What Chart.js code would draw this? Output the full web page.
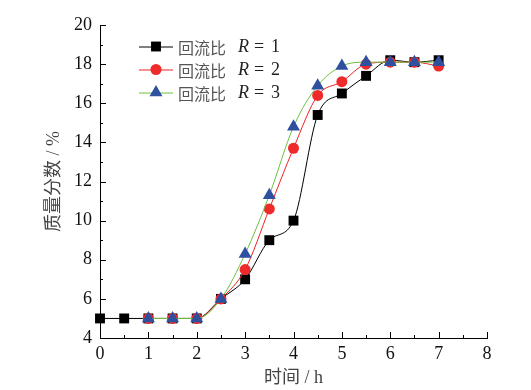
<!DOCTYPE html>
<html>
<head>
<meta charset="utf-8">
<script src="https://cdn.jsdelivr.net/npm/chart.js@4.4.0/dist/chart.umd.min.js"></script>
<style>
  html, body { margin: 0; padding: 0; background: #fff; }
  #wrap { width: 531px; height: 390px; position: relative; }
</style>
</head>
<body>
<div id="wrap"><canvas id="chart" width="531" height="390"></canvas></div>
<script>
// ── Data ───────────────────────────────────────────────────────────────────
const timeR1 = [0, 0.5, 1, 1.5, 2, 2.5, 3, 3.5, 4, 4.5, 5, 5.5, 6, 6.5, 7];
const massR1 = [5, 5, 5, 5, 5, 6, 7, 9, 10, 15.4, 16.5, 17.4, 18.2, 18.1, 18.2];

const timeR23 = [1, 1.5, 2, 2.5, 3, 3.5, 4, 4.5, 5, 5.5, 6, 6.5, 7];
const massR2  = [5, 5, 5, 6, 7.5, 10.6, 13.7, 16.4, 17.1, 18.0, 18.1, 18.1, 17.9];
const massR3  = [5, 5, 5, 6, 8.3, 11.3, 14.8, 16.9, 17.9, 18.1, 18.1, 18.1, 18.1];

const seriesNames = ['1', '2', '3'];

const SERIF = "'Liberation Serif', 'Times New Roman', 'Noto Sans CJK SC', serif";
const CJK   = "'Noto Sans CJK SC', 'Liberation Serif', serif";

function pts(xs, ys) {
  return xs.map((x, i) => ({ x, y: ys[i] }));
}

// ── Styles per series ──────────────────────────────────────────────────────
const styles = [
  { line: '#000000', fill: '#000000', shape: 'rect',     radius: 7 },
  { line: '#ee2222', fill: '#ee2a2a', shape: 'circle',   radius: 5.5 },
  { line: '#6cc040', fill: '#2f4f9f', shape: 'triangle', radius: 7.5 },
];

// ── Inward tick marks (major + minor) ─────────────────────────────────────
const innerTicks = {
  id: 'innerTicks',
  afterDatasetsDraw(chart) {
    const { ctx, chartArea: a, scales: { x, y } } = chart;
    ctx.save();
    ctx.strokeStyle = '#000';
    ctx.lineWidth = 1;
    ctx.beginPath();
    for (let v = 0; v <= 8; v += 0.5) {
      const px = Math.round(x.getPixelForValue(v)) + 0.5;
      const len = Number.isInteger(v) ? 6 : 3;
      ctx.moveTo(px, a.bottom);
      ctx.lineTo(px, a.bottom - len);
    }
    for (let v = 4; v <= 20; v += 1) {
      const py = Math.round(y.getPixelForValue(v)) + 0.5;
      const len = v % 2 === 0 ? 6 : 3;
      ctx.moveTo(a.left, py);
      ctx.lineTo(a.left + len, py);
    }
    ctx.stroke();
    ctx.restore();
  },
};

// ── Legend (italic R needs mixed fonts) ───────────────────────────────────
const mixedLegend = {
  id: 'mixedLegend',
  afterDraw(chart) {
    const { ctx } = chart;
    ctx.save();
    seriesNames.forEach((name, i) => {
      const st = styles[i];
      const yy = 46.5 + i * 23;
      ctx.strokeStyle = st.line;
      ctx.lineWidth = 1;
      ctx.beginPath();
      ctx.moveTo(139, yy + 0.5);
      ctx.lineTo(173, yy + 0.5);
      ctx.stroke();
      ctx.fillStyle = st.fill;
      Chart.helpers.drawPoint(ctx, {
        pointStyle: st.shape, radius: st.radius, rotation: 0, borderWidth: 0,
      }, 156, yy);

      ctx.textBaseline = 'middle';
      ctx.textAlign = 'left';
      ctx.fillStyle = '#555';
      ctx.font = `16px ${CJK}`;
      ctx.fillText('回流比', 178, yy + 1);
      ctx.fillStyle = '#222';
      ctx.font = `italic 18px ${SERIF}`;
      ctx.fillText('R', 238, yy + 1);
      ctx.font = `18px ${SERIF}`;
      ctx.fillText('=', 254, yy + 1);
      ctx.fillText(name, 271, yy + 1);
    });
    ctx.restore();
  },
};

// ── Chart ─────────────────────────────────────────────────────────────────
const allSeries = [pts(timeR1, massR1), pts(timeR23, massR2), pts(timeR23, massR3)];

new Chart(document.getElementById('chart'), {
  type: 'line',
  data: {
    datasets: allSeries.map((data, i) => ({
      label: '回流比 R = ' + seriesNames[i],
      data,
      borderColor: styles[i].line,
      backgroundColor: styles[i].fill,
      pointBackgroundColor: styles[i].fill,
      pointStyle: styles[i].shape,
      pointRadius: styles[i].radius,
      pointBorderWidth: 0,
      borderWidth: 1,
      cubicInterpolationMode: 'monotone',
      fill: false,
      clip: false,
      order: 2 - i,
    })),
  },
  options: {
    responsive: false,
    animation: false,
    events: [],
    layout: { padding: { left: 0, top: 25, right: 44, bottom: 0 } },
    plugins: { legend: { display: false }, tooltip: { enabled: false } },
    scales: {
      x: {
        type: 'linear',
        min: 0, max: 8,
        grid: { display: false, drawTicks: false },
        border: { display: true, color: '#000', width: 1 },
        ticks: {
          stepSize: 1, padding: 5, color: '#111',
          font: { family: SERIF, size: 18 },
        },
        title: {
          display: true, text: '时间 / h', color: '#444',
          font: { family: SERIF, size: 18 },
          padding: { top: 0, bottom: 1 },
        },
        afterFit(scale) { scale.height = 52; },
      },
      y: {
        min: 4, max: 20,
        grid: { display: false, drawTicks: false },
        border: { display: true, color: '#000', width: 1 },
        ticks: {
          stepSize: 2, padding: 8, color: '#111',
          font: { family: SERIF, size: 18 },
        },
        title: {
          display: true, text: '质量分数 / %', color: '#444',
          font: { family: SERIF, size: 18 },
          padding: { top: 43, bottom: 0 },
        },
        afterFit(scale) { scale.width = 100; },
      },
    },
  },
  plugins: [innerTicks, mixedLegend],
});
</script>
</body>
</html>
